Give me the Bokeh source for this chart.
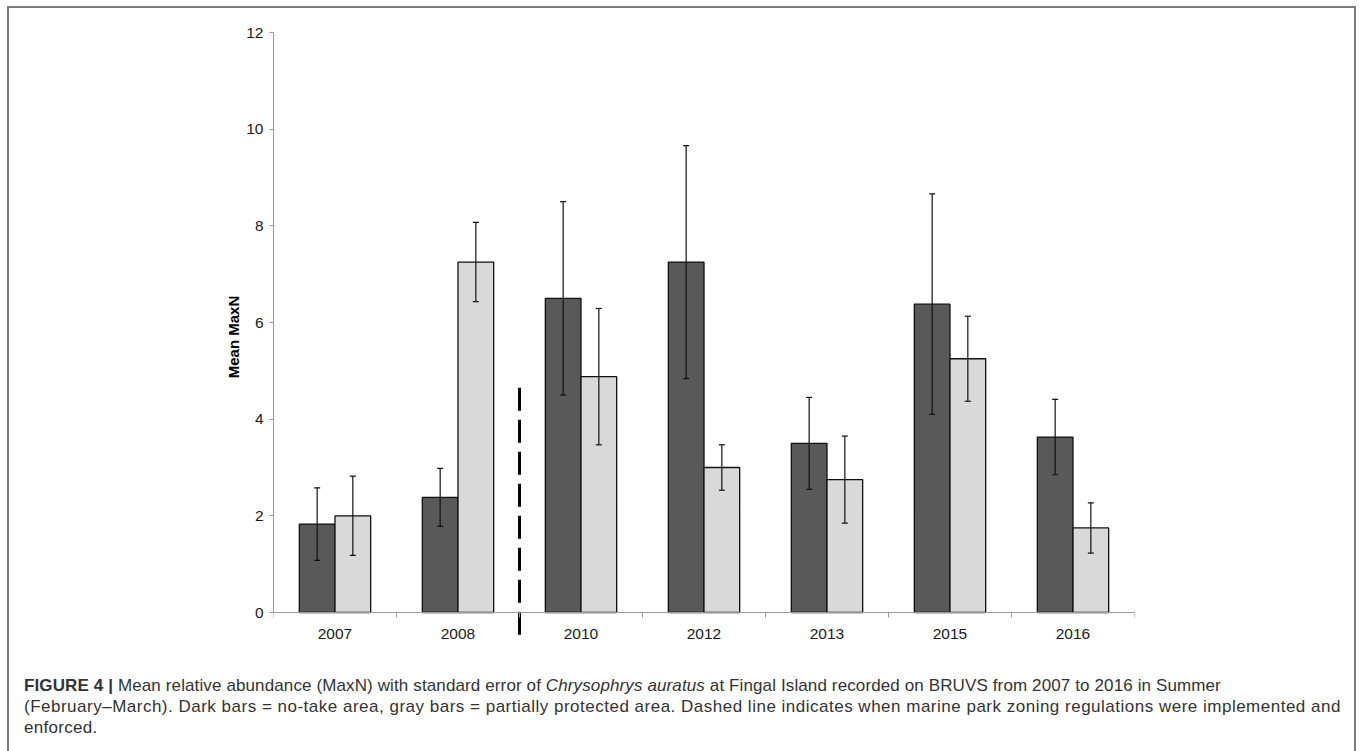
import numpy as np
from bokeh.plotting import figure
from bokeh.models import (ColumnDataSource, Range1d, FixedTicker, Whisker, TeeHead, Div)
from bokeh.layouts import column
from bokeh.embed import file_html
from bokeh.resources import INLINE

# ---------------- data ----------------
years = ["2007", "2008", "2010", "2012", "2013", "2015", "2016"]
no_take_mean = [1.83, 2.38, 6.50, 7.25, 3.50, 6.38, 3.63]
no_take_se = [0.75, 0.60, 2.00, 2.41, 0.95, 2.28, 0.78]
partial_mean = [2.00, 7.25, 4.88, 3.00, 2.75, 5.25, 1.75]
partial_se = [0.82, 0.82, 1.41, 0.47, 0.90, 0.88, 0.52]
y_ticks = [0, 2, 4, 6, 8, 10, 12]
zoning_first_year = "2010"   # dashed line drawn before this year

caption_lines = [
    "<b>FIGURE 4 |</b> Mean relative abundance (MaxN) with standard error of "
    "<i>Chrysophrys auratus</i> at Fingal Island recorded on BRUVS from 2007 to 2016 in Summer",
    "(February\u2013March). Dark bars = no-take area, gray bars = partially protected area. "
    "Dashed line indicates when marine park zoning regulations were implemented and",
    "enforced.",
]

# ---------------- styles ----------------
DARK = "#595959"
LIGHT = "#d9d9d9"
AXIS_GRAY = "#9a9a9a"
BAR_W = 0.29
DASH_TOP = 4.65
DASH_BOTTOM = -0.5
FONT = "Liberation Sans"
LINE_SPACING = ["0.12px", "0.5px", "0.3px"]

n = len(years)
centers = np.arange(n) + 0.5

src_dark = ColumnDataSource(dict(
    x=centers - BAR_W / 2, top=no_take_mean,
    upper=np.array(no_take_mean) + np.array(no_take_se),
    lower=np.array(no_take_mean) - np.array(no_take_se)))
src_light = ColumnDataSource(dict(
    x=centers + BAR_W / 2, top=partial_mean,
    upper=np.array(partial_mean) + np.array(partial_se),
    lower=np.array(partial_mean) - np.array(partial_se)))

p = figure(width=1345, height=652, output_backend="svg", toolbar_location=None,
           x_range=Range1d(0, n), y_range=Range1d(-0.6, 12),
           min_border_left=264, min_border_right=220,
           min_border_top=24, min_border_bottom=19)
p.outline_line_color = None
p.xgrid.visible = False
p.ygrid.visible = False
p.background_fill_color = "white"
p.border_fill_color = "white"

p.vbar(x="x", top="top", width=BAR_W, bottom=0, source=src_dark,
       fill_color=DARK, line_color="#111111", line_width=1.3)
p.vbar(x="x", top="top", width=BAR_W, bottom=0, source=src_light,
       fill_color=LIGHT, line_color="#111111", line_width=1.3)

for src in (src_dark, src_light):
    w = Whisker(base="x", upper="upper", lower="lower", source=src, level="overlay",
                line_color="#111111", line_width=1.2,
                upper_head=TeeHead(size=6, line_color="#111111", line_width=1.2),
                lower_head=TeeHead(size=6, line_color="#111111", line_width=1.2))
    p.add_layout(w)

zx = years.index(zoning_first_year)
p.segment(x0=[zx], y0=[DASH_TOP], x1=[zx], y1=[DASH_BOTTOM],
          line_color="black", line_width=3, line_dash="23 9")

# x axis
xa = p.xaxis[0]
xa.fixed_location = 0
xa.ticker = FixedTicker(ticks=list(centers), minor_ticks=list(range(n + 1)))
xa.major_label_overrides = {float(c): y for c, y in zip(centers, years)}
xa.major_tick_line_color = None
xa.minor_tick_line_color = AXIS_GRAY
xa.minor_tick_out = 5
xa.minor_tick_in = 0
xa.axis_line_color = AXIS_GRAY
xa.major_label_standoff = 10
xa.major_label_text_font = FONT
xa.major_label_text_font_size = "15.5px"
xa.major_label_text_color = "#1a1a1a"

# y axis
ya = p.yaxis[0]
ya.bounds = (0, 12)
ya.ticker = FixedTicker(ticks=y_ticks)
ya.minor_tick_line_color = None
ya.major_tick_line_color = AXIS_GRAY
ya.major_tick_out = 4
ya.major_tick_in = 0
ya.axis_line_color = AXIS_GRAY
ya.major_label_standoff = 6
ya.major_label_text_font = FONT
ya.major_label_text_font_size = "15.5px"
ya.major_label_text_color = "#1a1a1a"
ya.axis_label = "Mean MaxN"
ya.axis_label_text_font = FONT
ya.axis_label_text_font_style = "bold"
ya.axis_label_text_font_size = "15px"
ya.axis_label_text_color = "black"
ya.axis_label_standoff = 1

lines_html = "<br>".join(
    f'<span style="letter-spacing:{ls}">{t}</span>' for t, ls in zip(caption_lines, LINE_SPACING)
)
cap_html = (
    '<div style="font-family:\'Liberation Sans\',Arial,sans-serif;font-size:17px;'
    'line-height:21px;color:#333;white-space:nowrap;padding:10px 0 0 10px;">'
    + lines_html + "</div>"
)
cap = Div(text=cap_html, width=1345, height=91)

layout = column(p, cap, spacing=0, margin=(6, 0, 0, 7), width=1349, height=745,
                sizing_mode="fixed",
                styles={"border": "2px solid #7a7a7a", "border-bottom": "none",
                        "background-color": "white"})

open("out.html", "w").write(file_html(layout, INLINE))
